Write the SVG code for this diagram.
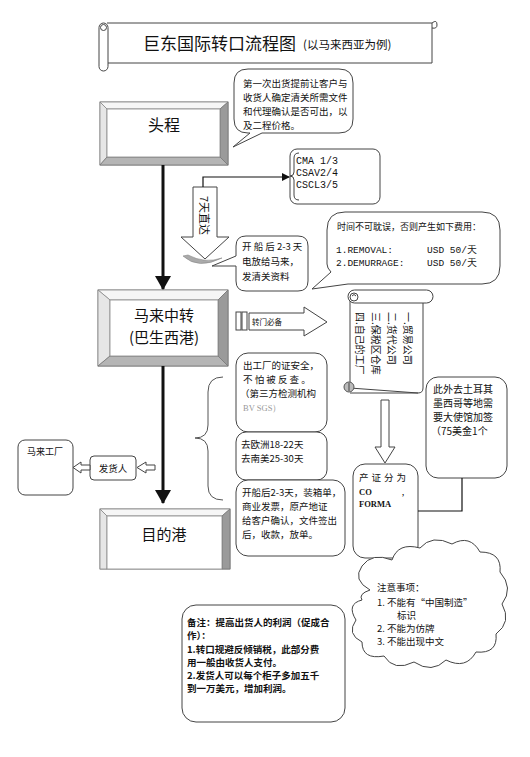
<svg xmlns="http://www.w3.org/2000/svg" width="530" height="757" viewBox="0 0 530 757">
<defs>
<style>
.cn{font-family:"Noto Sans CJK SC","Noto Sans",sans-serif;fill:#111}
.mono{font-family:"Liberation Mono","DejaVu Sans Mono",monospace;fill:#111}
.ln{fill:none;stroke:#444;stroke-width:1}
.box{fill:#fff;stroke:#444;stroke-width:1}
.bv-top{fill:#f6f6f6;stroke:#888;stroke-width:0.8}
.bv-left{fill:#e6e6e6;stroke:#888;stroke-width:0.8}
.bv-right{fill:#9a9a9a;stroke:#777;stroke-width:0.8}
.bv-bot{fill:#b5b5b5;stroke:#777;stroke-width:0.8}
.face{fill:#fff;stroke:#888;stroke-width:0.8}
.hollow{fill:#fff;stroke:#444;stroke-width:1}
</style>
<marker id="ah" markerWidth="8" markerHeight="8" refX="7" refY="4" orient="auto" markerUnits="userSpaceOnUse">
<path d="M0,0 L8,4 L0,8 z" fill="#111"/>
</marker>
<marker id="ahBig" markerWidth="14" markerHeight="16" refX="13" refY="8" orient="auto" markerUnits="userSpaceOnUse">
<path d="M0,0 L14,8 L0,16 z" fill="#111"/>
</marker>
</defs>
<rect width="530" height="757" fill="#fff"/>

<!-- Title scroll -->
<g id="title">
<path d="M107,23 L432,23 L432,63 L107,63" class="box"/>
<rect x="99" y="23" width="9" height="48" rx="4.5" class="box"/>
<circle cx="103.5" cy="27.5" r="3" class="box"/>
<path d="M432,23 Q437,19 437,25 Q437,29 432,28" class="ln"/>
<text x="143" y="50" class="cn" font-size="17">巨东国际转口流程图</text>
<text x="303" y="49" class="cn" font-size="11.5">(以马来西亚为例)</text>
</g>

<!-- Callout 1 -->
<g id="callout1">
<path d="M248,69 L339,69 Q353,69 353,83 L353,119 Q353,133 339,133 L262,133 L233,147 L250,133 L248,133 Q234,133 234,119 L234,83 Q234,69 248,69 Z" class="box"/>
<text class="cn" font-size="9.5"><tspan x="243" y="87">第一次出货提前让客户与</tspan><tspan x="243" y="101">收货人确定清关所需文件</tspan><tspan x="243" y="115">和代理确认是否可出，以</tspan><tspan x="243" y="129">及二程价格。</tspan></text>
</g>

<!-- 头程 -->
<g id="toucheng">
<rect x="100" y="102" width="128" height="63" fill="#fff" stroke="#888"/>
<polygon points="100,102 228,102 220,109 107,109" class="bv-top"/>
<polygon points="100,102 107,109 107,157 100,165" class="bv-left"/>
<polygon points="228,102 228,165 220,157 220,109" class="bv-right"/>
<polygon points="100,165 228,165 220,157 107,157" class="bv-bot"/>
<rect x="107" y="109" width="113" height="48" class="face"/>
<text x="164" y="131" class="cn" font-size="16" text-anchor="middle">头程</text>
</g>

<!-- CMA box -->
<g id="carriers">
<rect x="290" y="149" width="90" height="55" rx="7" class="box"/>
<path d="M299,153 Q294,153 294,158 L294,172 Q294,176 290,176 Q294,176 294,180 L294,195 Q294,200 299,200" class="ln"/>
<text class="mono" font-size="10"><tspan x="296" y="164">CMA 1/3</tspan><tspan x="296" y="176">CSAV2/4</tspan><tspan x="296" y="188">CSCL3/5</tspan></text>
</g>

<!-- 7天直达 block arrow -->
<g id="direct7">
<path d="M193,187 L217,187 L217,237 L229,237 L205,259 L181,237 L193,237 Z" class="hollow"/>
<text transform="translate(200,196) rotate(90)" class="cn" font-size="11">7天直达</text>
<path d="M183,256 Q198,270 222,258 Q205,264 188,255 Z" fill="#aaa" stroke="#888" stroke-width="0.6"/>
</g>

<!-- Callout 2 -->
<g id="callout2">
<path d="M246,236 L298,236 Q308,236 308,246 L308,281 Q308,291 298,291 L246,291 Q236,291 236,281 L236,266 L212,266 L236,256 L236,246 Q236,236 246,236 Z" class="box"/>
<text class="cn" font-size="9.5"><tspan x="242" y="250">开 船 后 2-3 天</tspan><tspan x="242" y="265">电放给马来，</tspan><tspan x="242" y="280">发清关资料</tspan></text>
</g>

<!-- Callout 3 -->
<g id="callout3">
<path d="M345,212 L482,212 Q500,212 500,230 L500,266 Q500,284 482,284 L348,284 L312,289 L331,272 Q327,268 327,264 L327,230 Q327,212 345,212 Z" class="box"/>
<text x="337" y="230" class="cn" font-size="9">时间不可耽误，否则产生如下费用：</text>
<text class="mono" font-size="9.5"><tspan x="336" y="253">1.REMOVAL:</tspan><tspan x="427" y="253">USD 50/天</tspan><tspan x="336" y="266">2.DEMURRAGE:</tspan><tspan x="427" y="266">USD 50/天</tspan></text>
</g>

<!-- 马来中转 -->
<g id="transit">
<rect x="98" y="290" width="130" height="76" fill="#fff" stroke="#888"/>
<polygon points="98,290 228,290 218,300 110,300" class="bv-top"/>
<polygon points="98,290 110,300 110,356 98,366" class="bv-left"/>
<polygon points="228,290 228,366 218,356 218,300" class="bv-right"/>
<polygon points="98,366 228,366 218,356 110,356" class="bv-bot"/>
<rect x="110" y="300" width="108" height="56" class="face"/>
<text x="164" y="321" class="cn" font-size="15" text-anchor="middle">马来中转</text>
<text x="164" y="343" class="cn" font-size="15" text-anchor="middle">(巴生西港)</text>
</g>

<!-- 转门必备 arrow -->
<g id="must">
<rect x="236" y="312" width="5" height="18" class="hollow"/>
<rect x="242" y="312" width="5" height="18" class="hollow"/>
<path d="M249,313 L304,313 L304,307 L327,322 L304,336 L304,330 L249,330 Z" class="hollow"/>
<text x="252" y="325" class="cn" font-size="7.5">转门必备</text>
</g>

<!-- vertical scroll -->
<g id="scroll">
<path d="M350,298 L350,388 L418,393 Q423,393 423,388 L423,298" class="box"/>
<path d="M350,393 L418,393" class="ln"/>
<rect x="348" y="290" width="85" height="13" rx="6.5" class="box"/>
<circle cx="354" cy="297" r="4" class="box"/>
<path d="M352,296 Q354,293 356,296" class="ln"/>
<circle cx="349" cy="387" r="5" fill="#bbb" stroke="#555"/>
<path d="M349,383 L349,391" class="ln"/>
<g class="cn" font-size="10">
<text transform="translate(356,312) rotate(90)">四.自己的工厂</text>
<text transform="translate(372,312) rotate(90)">三.保税区仓库</text>
<text transform="translate(388,312) rotate(90)">二.货代公司</text>
<text transform="translate(404,312) rotate(90)">一.贸易公司</text>
</g>
</g>

<!-- embassy box -->
<g id="embassy">
<rect x="426" y="377" width="81" height="101" rx="12" class="box"/>
<text class="cn" font-size="10"><tspan x="433" y="393">此外去土耳其</tspan><tspan x="433" y="407">墨西哥等地需</tspan><tspan x="433" y="421">要大使馆加签</tspan><tspan x="431" y="435">（75美金1个</tspan></text>
</g>

<!-- bubbles -->
<g id="safe">
<rect x="236" y="353" width="91" height="79" rx="12" class="box"/>
<text class="cn" font-size="9.5"><tspan x="243" y="369">出工厂的证安全，</tspan><tspan x="243" y="383">不 怕 被 反 查 。</tspan><tspan x="240" y="397">（第三方检测机构</tspan></text>
<text x="243" y="411" font-family="Liberation Serif,serif" font-size="8.5" fill="#999">BV SGS）</text>
</g>
<g id="days">
<rect x="236" y="432" width="91" height="48" rx="10" class="box"/>
<text class="cn" font-size="9.5"><tspan x="241" y="448">去欧洲18-22天</tspan><tspan x="241" y="462">去南美25-30天</tspan></text>
</g>
<g id="docs">
<rect x="236" y="480" width="109" height="76" rx="12" class="box"/>
<text class="cn" font-size="9.5"><tspan x="242" y="496">开船后2-3天，装箱单，</tspan><tspan x="242" y="510">商业发票，原产地证</tspan><tspan x="242" y="524">给客户确认，文件签出</tspan><tspan x="242" y="538">后，收款，放单。</tspan></text>
</g>

<!-- 马来工厂 / 发货人 -->
<g id="factory">
<rect x="18" y="440" width="55" height="55" rx="7" class="box"/>
<text x="27" y="455" class="cn" font-size="9">马来工厂</text>
</g>
<g id="shipper">
<rect x="90" y="456" width="46" height="24" rx="4" class="box"/>
<text x="113" y="472" class="cn" font-size="9.5" text-anchor="middle">发货人</text>
</g>

<!-- 目的港 -->
<g id="dest">
<rect x="100" y="509" width="130" height="60" fill="#fff" stroke="#888"/>
<polygon points="100,509 230,509 222,516 107,516" class="bv-top"/>
<polygon points="100,509 107,516 107,569 100,569" class="bv-left"/>
<polygon points="230,509 230,569 222,569 222,516" class="bv-right"/>
<rect x="107" y="516" width="115" height="53" class="face"/>
<text x="164" y="540" class="cn" font-size="15" text-anchor="middle">目的港</text>
</g>

<!-- 产证 -->
<g id="coo">
<rect x="353" y="464" width="65" height="94" rx="12" class="box"/>
<text x="359" y="481" class="cn" font-size="9.5" letter-spacing="3">产证分为</text>
<text font-family="Liberation Serif,serif" font-size="8.5" font-weight="bold" fill="#111"><tspan x="359" y="495">CO</tspan><tspan x="402" y="495">,</tspan><tspan x="359" y="507">FORMA</tspan></text>
</g>

<!-- brace -->
<g id="brace">
<path d="M223,377 Q208,377 208,392 L208,425 Q208,438 195,438 Q208,438 208,451 L208,486 Q208,500 223,500" fill="none" stroke="#555" stroke-width="1"/>
</g>

<!-- cloud -->
<g id="notes">
<path d="M370,590 Q352,580 362,566 Q372,552 392,560 Q398,542 420,548 Q432,534 452,544 Q470,534 480,552 Q502,552 500,572 Q514,588 502,604 Q512,622 496,634 Q498,654 476,652 Q466,670 446,660 Q432,674 414,662 Q394,672 384,656 Q362,660 362,642 Q346,634 356,620 Q346,604 362,600 Q358,594 370,590 Z" class="box"/>
<text class="cn" font-size="9.5"><tspan x="377" y="591">注意事项：</tspan><tspan x="377" y="606">1.  不能有“中国制造”</tspan><tspan x="397" y="619">标识</tspan><tspan x="377" y="632">2.  不能为仿牌</tspan><tspan x="377" y="645">3.  不能出现中文</tspan></text>
</g>

<!-- 备注 -->
<g id="remark">
<rect x="182" y="605" width="163" height="117" rx="14" class="box"/>
<text class="cn" font-size="9.5" font-weight="bold"><tspan x="187" y="626">备注：提高出货人的利润（促成合</tspan><tspan x="187" y="639">作）：</tspan><tspan x="187" y="653">1.转口规避反倾销税，此部分费</tspan><tspan x="187" y="666">用一般由收货人支付。</tspan><tspan x="187" y="679">2.发货人可以每个柜子多加五千</tspan><tspan x="187" y="692">到一万美元，增加利润。</tspan></text>
</g>

<!-- connectors -->
<g id="connectors">
<line x1="163" y1="165" x2="163" y2="289" stroke="#111" stroke-width="3" marker-end="url(#ahBig)"/>
<line x1="163" y1="366" x2="163" y2="503" stroke="#111" stroke-width="3" marker-end="url(#ahBig)"/>
<polyline points="203,187 203,177 289,177" fill="none" stroke="#111" stroke-width="1.2" marker-end="url(#ah)"/>
<path d="M381,400 L389,400 L389,447 L395,447 L385,463 L375,447 L381,447 Z" class="hollow"/>
<path d="M90,465 L81,465 L81,462 L73,467.5 L81,473 L81,470 L90,470 Z" class="hollow"/>
<path d="M155,465 L146,465 L146,462 L137,467.5 L146,473 L146,470 L155,470 Z" class="hollow"/>
<polyline points="418,511 462,511 462,478" fill="none" stroke="#111" stroke-width="1.2"/>
</g>
</svg>
